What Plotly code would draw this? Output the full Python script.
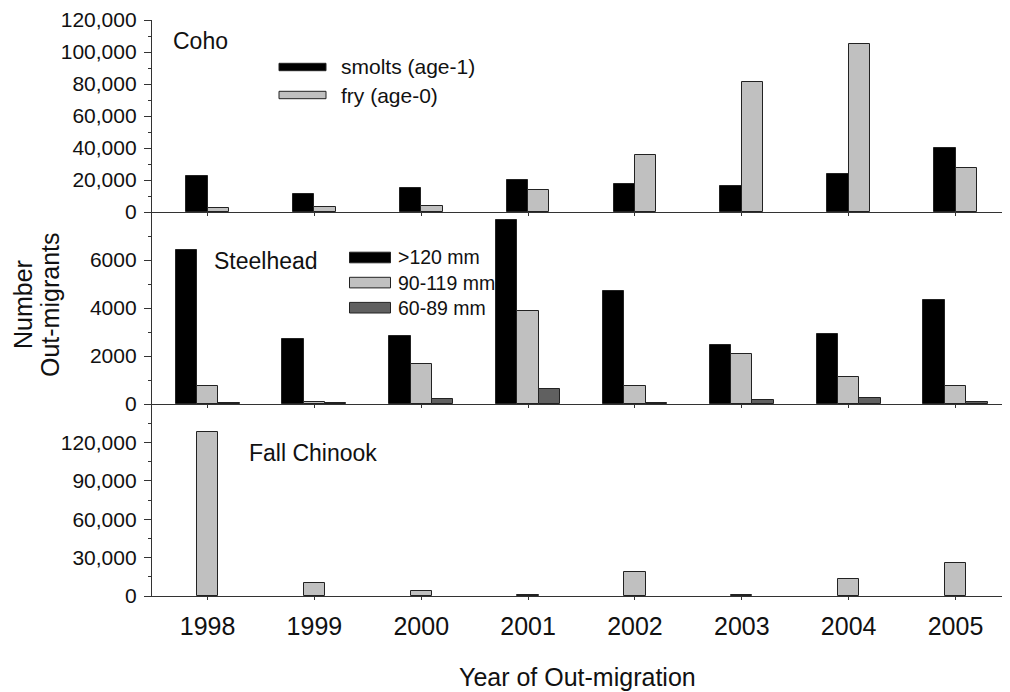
import plotly.graph_objects as go

# ---------------- data ----------------
years = ["1998", "1999", "2000", "2001", "2002", "2003", "2004", "2005"]

coho_names = ["smolts (age-1)", "fry (age-0)"]
coho_smolts = [22500, 11000, 15000, 20300, 17700, 16500, 23500, 39800]
coho_fry = [2800, 3400, 4000, 14000, 35900, 81000, 104800, 27800]

sth_names = [">120 mm", "90-119 mm", "60-89 mm"]
sth_gt120 = [6430, 2690, 2830, 7680, 4690, 2460, 2920, 4330]
sth_90_119 = [750, 80, 1670, 3880, 760, 2080, 1140, 750]
sth_60_89 = [50, 50, 190, 620, 50, 170, 230, 80]

chinook = [127800, 10400, 4200, 1100, 18700, 1100, 13300, 25700]

coho_ticks = [0, 20000, 40000, 60000, 80000, 100000, 120000]
sth_ticks = [0, 2000, 4000, 6000]
chinook_ticks = [0, 30000, 60000, 90000, 120000]

panel_labels = ["Coho", "Steelhead", "Fall Chinook"]
y_title_lines = ["Number", "Out-migrants"]
x_title = "Year of Out-migration"

# ---------------- styling ----------------
OFF = 8                      # page body margin
W, H = 1002, 684
ML, MR, MT, MB = 144, 0, 12, 96
PW, PH = W - ML - MR, H - MT - MB

BLACK = "#000000"
LIGHT = "#c0c0c0"
DARK = "#606060"
EDGE = "#222222"
AX = "#333333"
FONT = "Liberation Sans, Arial, sans-serif"


def px(x):
    return (x - OFF - ML) / PW


def py(y):
    return (H + OFF - MB - y) / PH


fig = go.Figure()


def bar(y, color, xa, ya, offset):
    fig.add_trace(go.Bar(
        x=years, y=y, xaxis=xa, yaxis=ya, offset=offset, width=0.2,
        marker=dict(color=color, line=dict(color=EDGE, width=1)),
        showlegend=False, hoverinfo="x+y"))


# top: coho (x3/y3)
bar(coho_smolts, BLACK, "x3", "y3", -0.2)
bar(coho_fry, LIGHT, "x3", "y3", 0.0)
# middle: steelhead (x2/y2)
bar(sth_gt120, BLACK, "x2", "y2", -0.3)
bar(sth_90_119, LIGHT, "x2", "y2", -0.1)
bar(sth_60_89, DARK, "x2", "y2", 0.1)
# bottom: chinook (x/y)
bar(chinook, LIGHT, "x", "y", -0.1)

xcommon = dict(range=[-0.52, 7.51], showline=True, linecolor=AX, linewidth=1.3,
               ticks="outside", ticklen=3, tickcolor=AX, tickwidth=1,
               showgrid=False, zeroline=False, fixedrange=True)
ycommon = dict(showline=True, linecolor=AX, linewidth=1.3, ticks="outside",
               ticklen=7, tickcolor=AX, tickwidth=1, showgrid=False, zeroline=False,
               tickfont=dict(family=FONT, size=21, color="#111"),
               ticklabelstandoff=3, fixedrange=True)

fig.update_layout(
    width=W, height=H,
    margin=dict(l=ML, r=MR, t=MT, b=MB),
    paper_bgcolor="white", plot_bgcolor="white",
    font=dict(family=FONT, color="#111"),
    bargap=0,
    xaxis=dict(**xcommon, anchor="y", domain=[0, 1],
               tickfont=dict(family=FONT, size=25, color="#111"),
               ticklabelstandoff=5),
    xaxis2=dict(**xcommon, anchor="y2", domain=[0, 1], showticklabels=False),
    xaxis3=dict(**xcommon, anchor="y3", domain=[0, 1], showticklabels=False),
    yaxis=dict(**ycommon, domain=[0, 1 / 3], range=[0, 150000],
               tickmode="array", tickvals=chinook_ticks, tickformat=",d",
               minor=dict(dtick=15000, tick0=0, ticks="outside", ticklen=3,
                          tickcolor=AX, showgrid=False)),
    yaxis2=dict(**ycommon, domain=[1 / 3, 2 / 3], range=[0, 8000],
                tickmode="array", tickvals=sth_ticks, tickformat="d",
                minor=dict(dtick=1000, tick0=0, ticks="outside", ticklen=3,
                           tickcolor=AX, showgrid=False)),
    yaxis3=dict(**ycommon, domain=[2 / 3, 1], range=[0, 120000],
                tickmode="array", tickvals=coho_ticks, tickformat=",d",
                minor=dict(dtick=10000, tick0=0, ticks="outside", ticklen=3,
                           tickcolor=AX, showgrid=False)),
)

annotations = []
shapes = []


def text(x, y, s, size, xanchor="left", angle=0):
    annotations.append(dict(x=px(x), y=py(y), xref="paper", yref="paper",
                            text=s, showarrow=False, xanchor=xanchor,
                            yanchor="middle", textangle=angle,
                            font=dict(family=FONT, size=size, color="#111")))


# panel labels
text(171, 41, panel_labels[0], 23)
text(212, 261, panel_labels[1], 23)
text(247, 453, panel_labels[2], 23)

# axis titles
text(23, 305, y_title_lines[0], 25, xanchor="center", angle=-90)
text(50, 305, y_title_lines[1], 25, xanchor="center", angle=-90)
text(577, 677, x_title, 25, xanchor="center")

# coho legend
coho_cols = [BLACK, LIGHT]
for i, (name, col) in enumerate(zip(coho_names, coho_cols)):
    yc = 67 + 28 * i
    shapes.append(dict(type="rect", xref="paper", yref="paper",
                       x0=px(279), x1=px(326), y0=py(yc - 3.7), y1=py(yc + 3.7),
                       fillcolor=col, line=dict(color=EDGE, width=1)))
    text(339, yc, name, 21)

# steelhead legend
sth_cols = [BLACK, LIGHT, DARK]
for i, (name, col) in enumerate(zip(sth_names, sth_cols)):
    yc = 257.5 + 25.1 * i
    shapes.append(dict(type="rect", xref="paper", yref="paper",
                       x0=px(349.5), x1=px(390.5), y0=py(yc - 5.3), y1=py(yc + 5.3),
                       fillcolor=col, line=dict(color=EDGE, width=1)))
    text(396, yc, name, 19.5)

fig.update_layout(annotations=annotations, shapes=shapes)

fig.write_html("out.html")
